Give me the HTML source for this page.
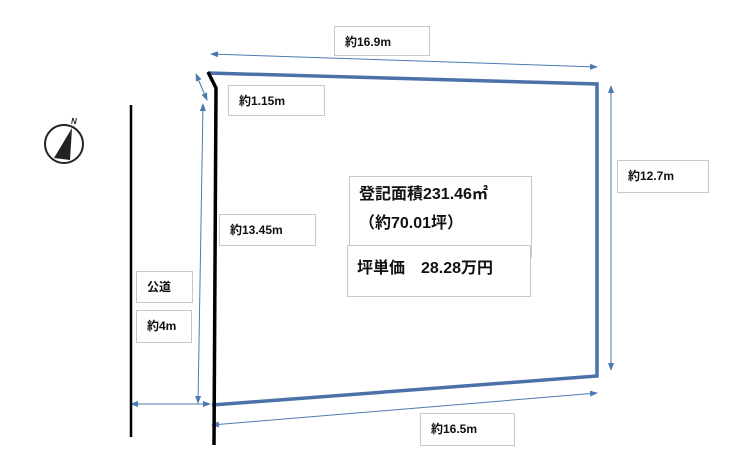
<!DOCTYPE html>
<html><head><meta charset="utf-8"><style>
body{margin:0;width:737px;height:457px;background:#fff;overflow:hidden;position:relative;font-family:"Liberation Sans","Noto Sans CJK JP",sans-serif;font-weight:bold;color:#111}
.b{position:absolute;border:1px solid #c8c8c8;background:#fff;font-size:12px;box-sizing:border-box;padding-left:10px;line-height:30px}
svg{position:absolute;left:0;top:0}
</style></head><body>
<svg width="737" height="457">
<defs><marker id="a" markerWidth="8" markerHeight="8" refX="7" refY="4" orient="auto-start-reverse" markerUnits="userSpaceOnUse"><path d="M0,1 L8,4 L0,7z" fill="#4a7ab0"/></marker></defs>
<g stroke="#4a7ab0" stroke-width="1" fill="none" marker-start="url(#a)" marker-end="url(#a)">
<line x1="211" y1="54" x2="597" y2="67"/>
<line x1="196" y1="74" x2="207" y2="100"/>
<line x1="203" y1="104" x2="198" y2="403"/>
<line x1="611" y1="86" x2="611" y2="370"/>
<line x1="131" y1="404" x2="210" y2="404"/>
<line x1="212" y1="425" x2="597" y2="393"/>
</g>
<g stroke="#4a72a8" stroke-width="3.5" fill="none">
<polyline points="208,73 597,84 597,376 212,405"/>
</g>
<polyline points="208,72 216,88 214,445" stroke="#000" stroke-width="3.5" fill="none"/>
<line x1="131" y1="105" x2="131" y2="437" stroke="#000" stroke-width="2.5"/>
<circle cx="64" cy="144" r="19" stroke="#222" stroke-width="2" fill="none"/>
<path d="M72,128 L70,160 L54,158z" fill="#222"/>
<text x="71" y="124" font-size="8" font-style="italic" fill="#222" font-family="Liberation Sans">N</text>
</svg>
<div class="b" style="left:334px;top:26px;width:96px;height:30px">約16.9m</div>
<div class="b" style="left:228px;top:85px;width:97px;height:31px">約1.15m</div>
<div class="b" style="left:219px;top:214px;width:97px;height:32px">約13.45m</div>
<div class="b" style="left:617px;top:160px;width:92px;height:33px">約12.7m</div>
<div class="b" style="left:136px;top:271px;width:57px;height:32px">公道</div>
<div class="b" style="left:136px;top:310px;width:56px;height:33px">約4m</div>
<div class="b" style="left:420px;top:413px;width:95px;height:33px">約16.5m</div>
<div class="b" style="left:349px;top:176px;width:183px;height:82px;font-size:16px;line-height:29px;padding-top:3px;padding-left:9px">登記面積231.46㎡<br>（約70.01坪）</div>
<div class="b" style="left:347px;top:245px;width:184px;height:52px;font-size:16px;line-height:30px;padding-top:8px;padding-left:9px">坪単価　28.28万円</div>
</body></html>
